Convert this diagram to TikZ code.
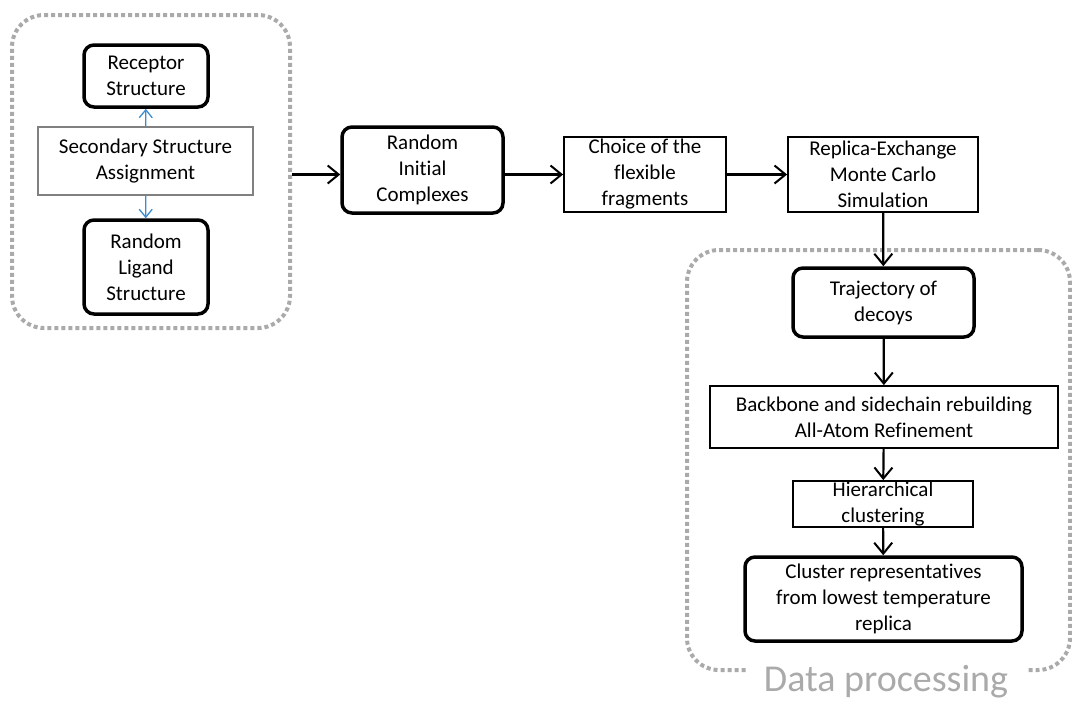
\documentclass[tikz,border=0pt]{standalone}
\usepackage{fontspec}
\setmainfont[Ligatures=NoCommon]{Carlito}
\usetikzlibrary{arrows.meta}
\definecolor{dotgray}{RGB}{170,170,170}
\definecolor{linkblue}{RGB}{60,140,210}
\tikzset{
	thickbox/.style={draw,rounded corners=10pt,line width=3.5pt,align=center,inner sep=0pt},
	thinbox/.style={draw,line width=1.8pt,align=center,inner sep=0pt},
	greybox/.style={draw=gray,line width=1.2pt,align=center,inner sep=0pt},
	grpbox/.style={draw=dotgray,line width=4pt,dash pattern=on 4pt off 3pt,rounded corners=32pt,inner sep=0pt},
	arr/.style={-{Straight Barb[length=11pt,width=18pt,line width=2pt]},line width=2.2pt},
	barr/.style={-{Straight Barb[length=8pt,width=13pt,line width=1.3pt]},line width=1.3pt,linkblue}
}

\begin{document}
\begin{tikzpicture}[x=1pt,y=-1pt,font=\fontsize{21}{26}\selectfont]
	\useasboundingbox (0,0) rectangle (1072,702);
	\node [grpbox,minimum width=278,minimum height=313] (inputs) at (151,171.5) {};
	\node [grpbox,minimum width=383,minimum height=420] (proc) at (878.5,460) {};
	\node [fill=white,text=dotgray,font=\fontsize{38}{40}\selectfont,inner xsep=18pt,inner ysep=2pt] (proclabel) at (886,682) {Data processing};

	\node [thickbox,minimum width=124,minimum height=62] (rec) at (146,76) {Receptor\\Structure};
	\node [greybox,minimum width=215,minimum height=68] (ssa) at (145.5,161) {Secondary Structure\\Assignment};
	\node [thickbox,minimum width=124,minimum height=94] (lig) at (146,267) {Random\\Ligand\\Structure};
	\node [thickbox,minimum width=161,minimum height=86] (ric) at (422.5,170) {Random\\Initial\\Complexes};
	\node [thinbox,minimum width=162,minimum height=75] (cho) at (645,174.5) {Choice of the\\flexible\\fragments};
	\node [thinbox,minimum width=190,minimum height=75] (rep) at (883,174.5) {Replica-Exchange\\Monte Carlo\\Simulation};
	\node [thickbox,minimum width=181,minimum height=69] (tra) at (883.5,302.5) {Trajectory of\\decoys};
	\node [thinbox,minimum width=348,minimum height=62] (bac) at (884,417) {Backbone and sidechain rebuilding\\All-Atom Refinement};
	\node [thinbox,minimum width=180,minimum height=46] (hie) at (883,504) {Hierarchical\\clustering};
	\node [thickbox,minimum width=277,minimum height=84] (clu) at (883.5,599) {Cluster representatives\\from lowest temperature\\replica};

	\draw [barr] (ssa) -- (rec);
	\draw [barr] (ssa) -- (lig);
	\draw [arr] (inputs.east |- cho) -- (ric.west |- cho);
	\draw [arr] (ric.east |- cho) -- (cho);
	\draw [arr] (cho) -- (rep);
	\draw [arr] (rep) -- (tra);
	\draw [arr] (tra) -- (bac);
	\draw [arr] (bac) -- (hie);
	\draw [arr] (hie) -- (clu);
\end{tikzpicture}
\end{document}
